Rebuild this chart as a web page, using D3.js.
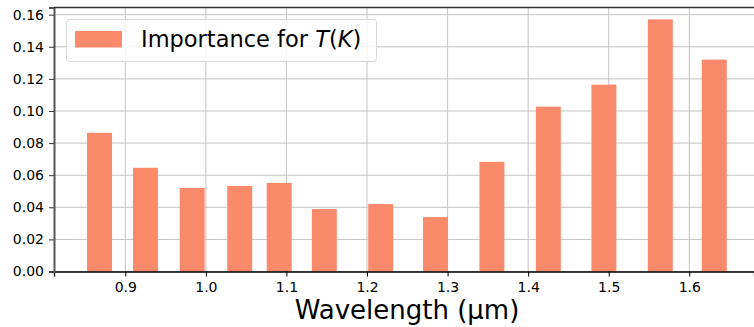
<!DOCTYPE html>
<html>
<meta charset="utf-8">
<style>
  body { margin: 0; background: #fff; }
  text { font-family: "DejaVu Sans", sans-serif; fill: #000; }
</style>
<body>
<script src="https://cdn.jsdelivr.net/npm/d3@7"></script>
<script>
// bar centres (um) and importance values
var wavelengths = [0.868, 0.925, 0.983, 1.042, 1.091, 1.147, 1.217, 1.285, 1.355, 1.425, 1.494, 1.564, 1.631];
var importance = [0.0864, 0.0646, 0.0520, 0.0533, 0.0552, 0.0389, 0.0420, 0.0339, 0.0683, 0.1027, 0.1164, 0.1571, 0.1320];
var xTicks = [0.9, 1.0, 1.1, 1.2, 1.3, 1.4, 1.5, 1.6];
var yTicks = [0, 0.02, 0.04, 0.06, 0.08, 0.10, 0.12, 0.14, 0.16];
var barWidth = 0.031;
var barColor = '#fb8a6b';

var width = 754, height = 327;
var margin = { top: 7.5, right: 0, bottom: 55.5, left: 54 };

var svg = d3.select('body').append('svg')
  .attr('width', width)
  .attr('height', height);

// axes run past the right edge of the picture, so no right spine
var x = d3.scaleLinear()
  .domain([0.8115, 1.6803])
  .range([margin.left, width - margin.right]);

var y = d3.scaleLinear()
  .domain([0, 0.16447])
  .range([height - margin.bottom, margin.top]);

// grid
var grid = svg.append('g').attr('class', 'grid');
grid.selectAll('.vx')
  .data(xTicks)
  .enter().append('line')
  .attr('x1', function(d) { return x(d); })
  .attr('x2', function(d) { return x(d); })
  .attr('y1', y.range()[0])
  .attr('y2', y.range()[1])
  .style('stroke', '#c4c4c4')
  .style('stroke-width', 1);
grid.selectAll('.hy')
  .data(yTicks)
  .enter().append('line')
  .attr('x1', x.range()[0])
  .attr('x2', width)
  .attr('y1', function(d) { return y(d); })
  .attr('y2', function(d) { return y(d); })
  .style('stroke', '#c4c4c4')
  .style('stroke-width', 1);

// bars
svg.append('g')
  .selectAll('rect')
  .data(importance)
  .enter().append('rect')
  .attr('x', function(d, i) { return x(wavelengths[i] - barWidth / 2); })
  .attr('width', function(d, i) { return x(wavelengths[i] + barWidth / 2) - x(wavelengths[i] - barWidth / 2); })
  .attr('y', function(d) { return y(d); })
  .attr('height', function(d) { return y(0) - y(d); })
  .style('fill', barColor);

// axes
var xAxis = svg.append('g')
  .attr('transform', 'translate(0,' + y(0) + ')')
  .call(d3.axisBottom(x).tickValues(xTicks).tickFormat(d3.format('.1f')).tickSizeOuter(0).tickSize(5).tickPadding(6));
xAxis.select('.domain').style('stroke', '#000').style('stroke-width', 1.3);
xAxis.selectAll('.tick line').style('stroke', '#000');
xAxis.selectAll('text').style('font-size', '14px').attr('fill', '#222');

var yAxis = svg.append('g')
  .attr('transform', 'translate(' + margin.left + ',0)')
  .call(d3.axisLeft(y).tickValues(yTicks).tickFormat(d3.format('.2f')).tickSizeOuter(0).tickSize(5).tickPadding(5));
yAxis.select('.domain').style('stroke', '#555').style('stroke-width', 2);
yAxis.selectAll('.tick line').style('stroke', '#333');
yAxis.selectAll('text').style('font-size', '14px').attr('fill', '#222');

// top spine
svg.append('line')
  .attr('x1', margin.left)
  .attr('x2', width)
  .attr('y1', y.range()[1])
  .attr('y2', y.range()[1])
  .style('stroke', '#333')
  .style('stroke-width', 1.3);

// x label
svg.append('text')
  .attr('x', 407)
  .attr('y', 319)
  .attr('text-anchor', 'middle')
  .style('font-size', '26px')
  .text('Wavelength (\u03bcm)');

// legend
var legend = svg.append('g').attr('class', 'legend');
legend.append('rect')
  .attr('x', 66.5)
  .attr('y', 19.5)
  .attr('width', 310)
  .attr('height', 42)
  .attr('rx', 3)
  .style('fill', 'rgba(255,255,255,0.8)')
  .style('stroke', '#d8d8d8')
  .style('stroke-width', 1);
legend.append('rect')
  .attr('x', 75)
  .attr('y', 31)
  .attr('width', 47)
  .attr('height', 16.5)
  .style('fill', barColor);
var lt = legend.append('text')
  .attr('x', 141)
  .attr('y', 47)
  .style('font-size', '22.5px');
lt.append('tspan').text('Importance for ');
lt.append('tspan').style('font-style', 'italic').text('T');
lt.append('tspan').text('(');
lt.append('tspan').style('font-style', 'italic').text('K');
lt.append('tspan').text(')');
</script>
</body>
</html>
